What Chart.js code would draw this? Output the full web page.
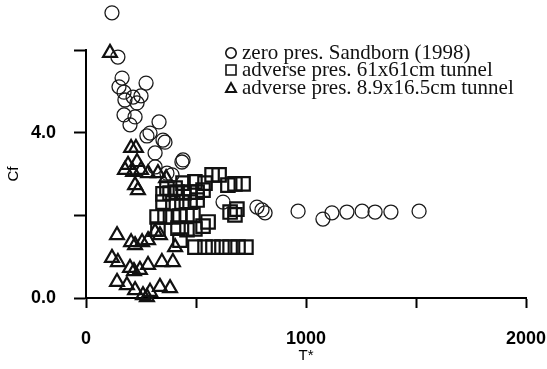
<!DOCTYPE html>
<html>
<head>
<meta charset="utf-8">
<script src="https://cdn.jsdelivr.net/npm/chart.js@4/dist/chart.umd.min.js"></script>
<style>
  html, body { margin: 0; padding: 0; background: #fff; }
  #wrap { width: 547px; height: 369px; }
</style>
</head>
<body>
<div id="wrap"><canvas id="graficoCf"></canvas></div>
<script>
// zero pressure gradient (Sandborn 1998)
const zeroT = [118, 145, 164, 150, 273, 173, 214, 250, 177, 232, 173, 223, 200, 332, 291, 277, 350, 359,
  314, 441, 436, 314, 368, 391, 623, 777, 800, 814, 964, 1077, 1118, 1186, 1255, 1314, 1386, 1514];
const zeroCf = [6.90, 5.83, 5.32, 5.11, 5.20, 4.98, 4.86, 4.89, 4.79, 4.72, 4.43, 4.38, 4.19, 4.26, 3.99, 3.92, 3.82, 3.77,
  3.51, 3.34, 3.29, 3.17, 3.02, 2.98, 2.32, 2.20, 2.13, 2.06, 2.10, 1.91, 2.06, 2.08, 2.10, 2.08, 2.08, 2.10];

// adverse pressure, 61x61cm tunnel
const grandeT = [573, 605, 495, 541, 441, 645, 677, 714, 405, 368, 350, 382, 414, 445, 473, 505, 532,
  350, 395, 436, 473, 505, 323, 359, 395, 427, 459, 486, 655, 686, 677, 327, 418, 459, 495, 532, 555,
  427, 495, 541, 577, 618, 655, 691, 727];
const grandeCf = [2.98, 2.98, 2.81, 2.78, 2.78, 2.73, 2.76, 2.76, 2.66, 2.66, 2.52, 2.54, 2.56, 2.54, 2.56, 2.56, 2.61,
  2.32, 2.30, 2.32, 2.32, 2.37, 1.96, 1.96, 1.96, 1.98, 2.01, 2.01, 2.08, 2.15, 2.01, 1.67, 1.69, 1.65, 1.67, 1.74, 1.84,
  1.40, 1.23, 1.23, 1.23, 1.23, 1.23, 1.23, 1.23];

// adverse pressure, 8.9x16.5cm tunnel
const pequenoT = [109, 205, 227, 191, 232, 177, 214, 250, 282, 327, 364, 223, 236, 141, 205, 223, 255, 282,
  336, 405, 314, 118, 145, 200, 218, 245, 282, 345, 395, 141, 186, 223, 259, 291, 336, 382, 277];
const pequenoCf = [5.93, 3.63, 3.63, 3.22, 3.29, 3.10, 3.05, 3.10, 3.02, 3.02, 2.90, 2.73, 2.61, 1.52, 1.35, 1.28, 1.35, 1.40,
  1.52, 1.23, 1.60, 0.97, 0.87, 0.73, 0.65, 0.68, 0.80, 0.87, 0.87, 0.39, 0.31, 0.19, 0.07, 0.15, 0.27, 0.24, 0.02];

const legendas = [
  "zero pres. Sandborn (1998)",
  "adverse pres. 61x61cm tunnel",
  "adverse pres. 8.9x16.5cm tunnel",
];

const xTicksRotulo = [0, 1000, 2000];
const yTicksRotulo = [0, 4];

function montarPontos(xs, ys) {
  return xs.map((x, i) => ({ x: x, y: ys[i] }));
}

// deixa os pontos acima do eixo (Cf > 6) aparecerem
let areaGuardada = null;
const liberarArea = {
  id: "liberarArea",
  beforeDatasetsDraw(chart) {
    areaGuardada = { ...chart.chartArea };
    chart.chartArea.top = 0;
  },
  afterDatasetsDraw(chart) {
    if (areaGuardada) Object.assign(chart.chartArea, areaGuardada);
  },
};

// legenda desenhada dentro da area do grafico
const legendaInterna = {
  id: "legendaInterna",
  afterDraw(chart) {
    const ctx = chart.ctx;
    const x0 = 231;
    const linhas = [53, 70, 88];
    ctx.save();
    ctx.strokeStyle = "#111";
    ctx.fillStyle = "#111";

    ctx.lineWidth = 1.6;
    ctx.beginPath();
    ctx.arc(x0, linhas[0], 5.2, 0, Math.PI * 2);
    ctx.stroke();

    ctx.beginPath();
    ctx.rect(x0 - 5, linhas[1] - 5, 10, 10);
    ctx.stroke();

    ctx.lineWidth = 2;
    ctx.beginPath();
    ctx.moveTo(x0, linhas[2] - 5);
    ctx.lineTo(x0 + 5, linhas[2] + 4);
    ctx.lineTo(x0 - 5, linhas[2] + 4);
    ctx.closePath();
    ctx.stroke();

    ctx.font = '21px "Liberation Serif"';
    ctx.textBaseline = "middle";
    ctx.textAlign = "left";
    legendas.forEach((txt, i) => {
      ctx.fillText(txt, 242, linhas[i]);
    });
    ctx.restore();
  },
};

const ctx = document.getElementById("graficoCf").getContext("2d");

new Chart(ctx, {
  type: "scatter",
  data: {
    datasets: [
      {
        label: legendas[0],
        data: montarPontos(zeroT, zeroCf),
        pointStyle: "circle",
        pointRadius: 7,
        borderColor: "#1a1a1a",
        backgroundColor: "rgba(0,0,0,0)",
        borderWidth: 1.3,
        clip: false,
      },
      {
        label: legendas[1],
        data: montarPontos(grandeT, grandeCf),
        pointStyle: "rect",
        pointRadius: 9.5,
        borderColor: "#111",
        backgroundColor: "rgba(0,0,0,0)",
        borderWidth: 2.2,
        clip: false,
      },
      {
        label: legendas[2],
        data: montarPontos(pequenoT, pequenoCf),
        pointStyle: "triangle",
        pointRadius: 8,
        borderColor: "#111",
        backgroundColor: "rgba(0,0,0,0)",
        borderWidth: 2.2,
        clip: false,
      },
    ],
  },
  options: {
    responsive: true,
    maintainAspectRatio: false,
    animation: false,
    layout: {
      padding: { top: 50, right: 0, left: 0, bottom: 0 },
    },
    plugins: {
      legend: { display: false },
      tooltip: { enabled: false },
    },
    scales: {
      x: {
        type: "linear",
        min: 0,
        max: 2000,
        afterFit: (axis) => {
          axis.height = 71;
          axis.paddingLeft = 0;
          axis.paddingRight = 21;
        },
        border: { display: true, color: "#000", width: 2 },
        grid: {
          display: true,
          drawOnChartArea: false,
          drawTicks: true,
          tickLength: 10,
          tickWidth: 2,
          tickColor: "#000",
        },
        ticks: {
          stepSize: 500,
          padding: 20,
          color: "#000",
          maxRotation: 0,
          font: { family: "Liberation Sans", size: 18, weight: "bold" },
          callback: function (value) {
            return xTicksRotulo.includes(value) ? String(value) : "";
          },
        },
        title: {
          display: true,
          text: "T*",
          color: "#000",
          padding: { top: 0, bottom: 4 },
          font: { family: "Liberation Sans", size: 15 },
        },
      },
      y: {
        type: "linear",
        min: 0,
        max: 6,
        afterFit: (axis) => { axis.width = 86; },
        border: { display: true, color: "#000", width: 2 },
        grid: {
          display: true,
          drawOnChartArea: false,
          drawTicks: true,
          tickLength: 12,
          tickWidth: 2,
          tickColor: "#000",
        },
        ticks: {
          stepSize: 2,
          padding: 18,
          color: "#000",
          font: { family: "Liberation Sans", size: 18, weight: "bold" },
          callback: function (value) {
            return yTicksRotulo.includes(value) ? value.toFixed(1) : "";
          },
        },
        title: {
          display: true,
          text: "Cf",
          color: "#000",
          padding: { top: 5, bottom: 0 },
          font: { family: "Liberation Sans", size: 15 },
        },
      },
    },
  },
  plugins: [liberarArea, legendaInterna],
});
</script>
</body>
</html>
